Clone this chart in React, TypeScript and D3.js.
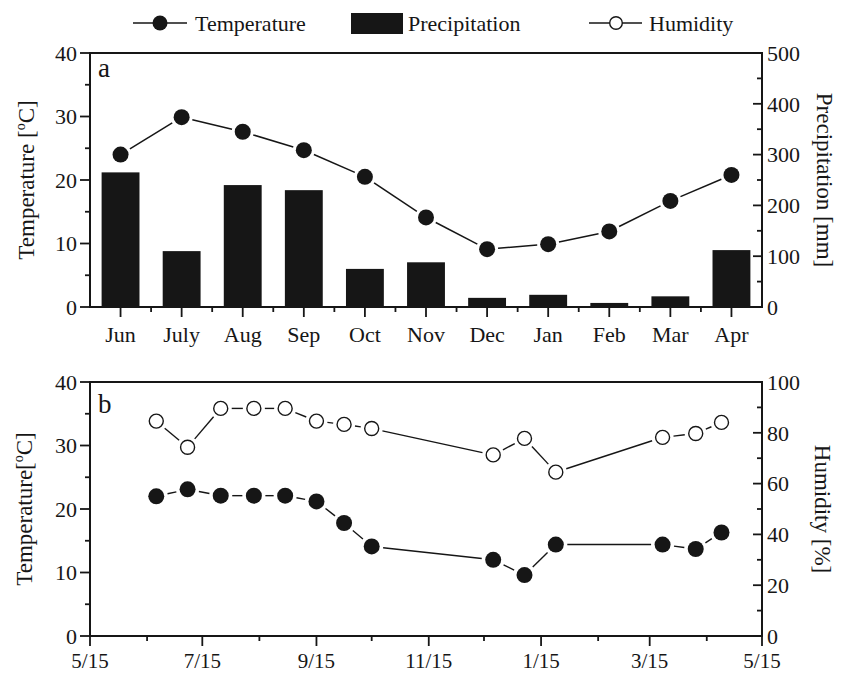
import React from "react";
import * as d3 from "d3";

// ---------- Data ----------
const months = ["Jun", "July", "Aug", "Sep", "Oct", "Nov", "Dec", "Jan", "Feb", "Mar", "Apr"];
const precipitation = [265, 110, 240, 230, 75, 88, 18, 24, 8, 21, 112];
const temperatureA = [24.0, 29.9, 27.6, 24.7, 20.5, 14.1, 9.1, 9.9, 11.9, 16.7, 20.8];

const sampleDates = [
  "2012-06-20", "2012-07-07", "2012-07-25", "2012-08-12", "2012-08-29",
  "2012-09-15", "2012-09-30", "2012-10-15", "2012-12-20", "2013-01-06",
  "2013-01-23", "2013-03-22", "2013-04-09", "2013-04-23",
];
const temperatureB = [22.0, 23.1, 22.1, 22.1, 22.1, 21.2, 17.8, 14.1, 12.0, 9.6, 14.4, 14.4, 13.7, 16.3];
const humidityB = [84.6, 74.3, 89.6, 89.6, 89.6, 84.6, 83.3, 81.7, 71.3, 77.8, 64.5, 78.2, 79.7, 84.1];

const dateTickLabels = ["5/15", "7/15", "9/15", "11/15", "1/15", "3/15", "5/15"];
const tempTicks = [0, 10, 20, 30, 40];
const precipTicks = [0, 100, 200, 300, 400, 500];
const humTicks = [0, 20, 40, 60, 80, 100];

// ---------- Layout ----------
const W = 848, H = 674;
const L = 90, R = 762;
const aTop = 53, aBot = 307;
const bTop = 382, bBot = 636;
const FONT = "'Liberation Serif', 'Times New Roman', serif";
const FS = 22;
const INK = "#161616";

const parse = d3.timeParse("%Y-%m-%d");
const dates = sampleDates.map((s) => parse(s) as Date);

function shortSegs(pts: [number, number][], r: number) {
  const out: [number, number, number, number][] = [];
  for (let i = 0; i < pts.length - 1; i++) {
    const [x1, y1] = pts[i];
    const [x2, y2] = pts[i + 1];
    const dx = x2 - x1, dy = y2 - y1;
    const len = Math.hypot(dx, dy);
    if (len <= 2 * r) continue;
    const ux = dx / len, uy = dy / len;
    out.push([x1 + ux * r, y1 + uy * r, x2 - ux * r, y2 - uy * r]);
  }
  return out;
}

function mids(t: number[]) {
  const m: number[] = [];
  for (let i = 0; i < t.length - 1; i++) m.push((t[i] + t[i + 1]) / 2);
  return m;
}

export default function App() {
  // panel a scales
  const xA = d3.scaleBand<string>().domain(months).range([L, R]).padding(0);
  const yT = d3.scaleLinear().domain([0, 40]).range([aBot, aTop]);
  const yP = d3.scaleLinear().domain([0, 500]).range([aBot, aTop]);
  const barW = xA.bandwidth() * 0.62;

  // panel b scales
  const start = parse("2012-05-15") as Date;
  const end = parse("2013-05-15") as Date;
  const xB = d3.scaleTime().domain([start, end]).range([L, R]);
  const yTb = d3.scaleLinear().domain([0, 40]).range([bBot, bTop]);
  const yH = d3.scaleLinear().domain([0, 100]).range([bBot, bTop]);
  const majorDates = dateTickLabels.map((_, i) => new Date(2012, 4 + 2 * i, 15));
  const minorDates = dateTickLabels.slice(1).map((_, i) => new Date(2012, 5 + 2 * i, 15));

  const ptsA: [number, number][] = months.map((m, i) => [xA(m)! + xA.bandwidth() / 2, yT(temperatureA[i])]);
  const ptsTb: [number, number][] = dates.map((d, i) => [xB(d), yTb(temperatureB[i])]);
  const ptsHb: [number, number][] = dates.map((d, i) => [xB(d), yH(humidityB[i])]);

  const axisStroke = { stroke: INK, strokeWidth: 2 };
  const tickStroke = { stroke: INK, strokeWidth: 1.8 };

  const leftAxis = (y: d3.ScaleLinear<number, number>, ticks: number[]) => (
    <g>
      {ticks.map((t) => (
        <g key={"l" + t}>
          <line x1={L - 10} x2={L} y1={y(t)} y2={y(t)} {...tickStroke} />
          <text x={L - 13} y={y(t)} dy="0.35em" textAnchor="end">{t}</text>
        </g>
      ))}
      {mids(ticks).map((t) => (
        <line key={"lm" + t} x1={L - 5} x2={L} y1={y(t)} y2={y(t)} {...tickStroke} />
      ))}
    </g>
  );
  const rightAxis = (y: d3.ScaleLinear<number, number>, ticks: number[]) => (
    <g>
      {ticks.map((t) => (
        <g key={"r" + t}>
          <line x1={R - 9} x2={R} y1={y(t)} y2={y(t)} {...tickStroke} />
          <text x={R + 5} y={y(t)} dy="0.35em" textAnchor="start">{t}</text>
        </g>
      ))}
      {mids(ticks).map((t) => (
        <line key={"rm" + t} x1={R - 5} x2={R} y1={y(t)} y2={y(t)} {...tickStroke} />
      ))}
    </g>
  );

  return (
    <svg width={W} height={H} style={{ position: "absolute", left: 0, top: 0, background: "#fff" }}
      fontFamily={FONT} fontSize={FS} fill={INK}>
      {/* Legend */}
      <g>
        <line x1={133} x2={187} y1={23} y2={23} stroke={INK} strokeWidth={1.6} />
        <circle cx={160} cy={23} r={7.5} fill={INK} />
        <text x={195} y={31}>Temperature</text>
        <rect x={351} y={13} width={52} height={21} fill={INK} />
        <text x={408} y={31}>Precipitation</text>
        <line x1={589} x2={642} y1={23} y2={23} stroke={INK} strokeWidth={1.6} />
        <circle cx={616} cy={23} r={6.3} fill="#fff" stroke={INK} strokeWidth={1.4} />
        <text x={649} y={31}>Humidity</text>
      </g>

      {/* Panel a */}
      <g>
        {months.map((m, i) => (
          <rect key={m} x={xA(m)! + (xA.bandwidth() - barW) / 2} y={yP(precipitation[i])}
            width={barW} height={aBot - yP(precipitation[i])} fill={INK} />
        ))}
        {shortSegs(ptsA, 11).map((s, i) => (
          <line key={"sa" + i} x1={s[0]} y1={s[1]} x2={s[2]} y2={s[3]} stroke={INK} strokeWidth={1.5} />
        ))}
        {ptsA.map((p, i) => (
          <circle key={"ca" + i} cx={p[0]} cy={p[1]} r={8} fill={INK} />
        ))}
        <rect x={L} y={aTop} width={R - L} height={aBot - aTop} fill="none" {...axisStroke} />
        {leftAxis(yT, tempTicks)}
        {rightAxis(yP, precipTicks)}
        {months.map((m) => {
          const c = xA(m)! + xA.bandwidth() / 2;
          return (
            <g key={"xt" + m}>
              <line x1={c} x2={c} y1={aBot} y2={aBot + 10} {...tickStroke} />
              <text x={c} y={aBot + 35} textAnchor="middle">{m}</text>
            </g>
          );
        })}
        {months.slice(1).map((m) => (
          <line key={"xm" + m} x1={xA(m)!} x2={xA(m)!} y1={aBot} y2={aBot + 5} {...tickStroke} />
        ))}
        <text x={98} y={77} fontSize={27}>a</text>
        <text transform={`translate(34,${(aTop + aBot) / 2}) rotate(-90)`} textAnchor="middle" fontSize={23}>
          Temperature [<tspan fontSize={14} dy={-9}>o</tspan><tspan dy={9}>C]</tspan>
        </text>
        <text transform={`translate(817,${(aTop + aBot) / 2}) rotate(90)`} textAnchor="middle" fontSize={23}>
          Precipitation [mm]
        </text>
      </g>

      {/* Panel b */}
      <g>
        {shortSegs(ptsHb, 11).map((s, i) => (
          <line key={"sh" + i} x1={s[0]} y1={s[1]} x2={s[2]} y2={s[3]} stroke={INK} strokeWidth={1.4} />
        ))}
        {shortSegs(ptsTb, 11.5).map((s, i) => (
          <line key={"st" + i} x1={s[0]} y1={s[1]} x2={s[2]} y2={s[3]} stroke={INK} strokeWidth={1.4} />
        ))}
        {ptsHb.map((p, i) => (
          <circle key={"ch" + i} cx={p[0]} cy={p[1]} r={7} fill="#fff" stroke={INK} strokeWidth={1.4} />
        ))}
        {ptsTb.map((p, i) => (
          <circle key={"ct" + i} cx={p[0]} cy={p[1]} r={8} fill={INK} />
        ))}
        <rect x={L} y={bTop} width={R - L} height={bBot - bTop} fill="none" {...axisStroke} />
        {leftAxis(yTb, tempTicks)}
        {rightAxis(yH, humTicks)}
        {majorDates.map((d, i) => (
          <g key={"bx" + i}>
            <line x1={xB(d)} x2={xB(d)} y1={bBot} y2={bBot + 10} {...tickStroke} />
            <text x={xB(d)} y={bBot + 32} textAnchor="middle" fontSize={21}>{dateTickLabels[i]}</text>
          </g>
        ))}
        {minorDates.map((d, i) => (
          <line key={"bm" + i} x1={xB(d)} x2={xB(d)} y1={bBot} y2={bBot + 5} {...tickStroke} />
        ))}
        <text x={98} y={413} fontSize={27}>b</text>
        <text transform={`translate(32,${(bTop + bBot) / 2}) rotate(-90)`} textAnchor="middle" fontSize={23}>
          Temperature[<tspan fontSize={14} dy={-9}>o</tspan><tspan dy={9}>C]</tspan>
        </text>
        <text transform={`translate(815,${(bTop + bBot) / 2}) rotate(90)`} textAnchor="middle" fontSize={23}>
          Humidity [%]
        </text>
      </g>
    </svg>
  );
}
